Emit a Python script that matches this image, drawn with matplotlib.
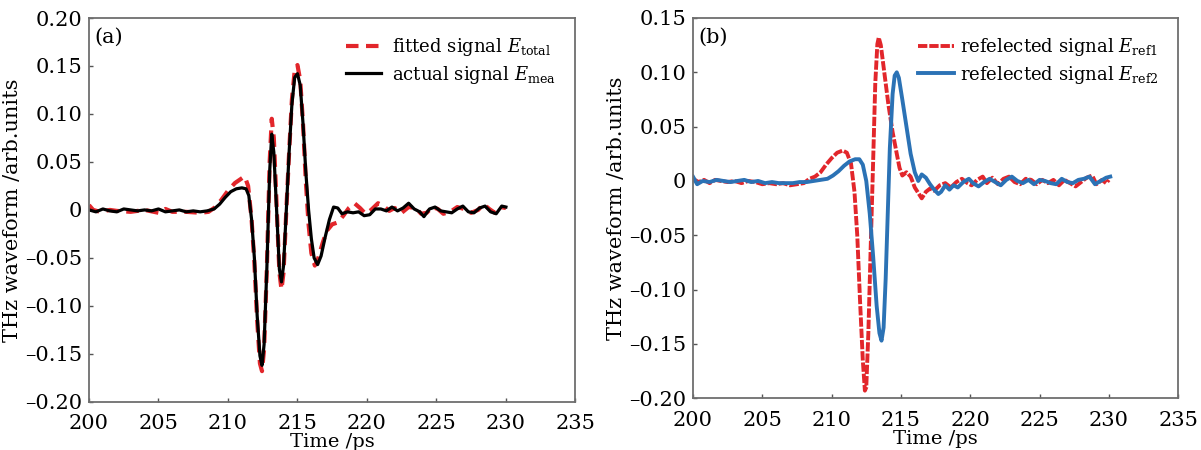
#
# THz waveforms: (a) fitted vs. actual signal, (b) the two reflected signals
#

import matplotlib
matplotlib.use("Agg")
import matplotlib.pyplot as plt
from matplotlib.ticker import FixedLocator, FuncFormatter

plt.rcParams['font.family'] = ['DejaVu Serif']
plt.rcParams['mathtext.fontset'] = 'dejavuserif'

# panel (a): actual signal E_mea
t_mea = [200.0, 200.5, 201.0, 201.5, 202.0, 202.5, 203.0, 203.5, 204.0, 204.5,
         205.0, 205.5, 206.0, 206.5, 207.0, 207.5, 208.0, 208.5, 209.0, 209.4,
         209.8, 210.2, 210.6, 211.0, 211.3, 211.5, 211.7, 211.9, 212.1, 212.3,
         212.45, 212.6, 212.8, 213.0, 213.15, 213.3, 213.5, 213.7, 213.85, 214.0,
         214.2, 214.4, 214.6, 214.8, 215.0, 215.2, 215.4, 215.6, 215.8, 216.0,
         216.2, 216.45, 216.7, 217.0, 217.3, 217.6, 217.9, 218.2, 218.6, 219.0,
         219.4, 219.8, 220.2, 220.6, 221.0, 221.4, 221.8, 222.2, 222.6, 223.0,
         223.4, 223.8, 224.1, 224.5, 224.9, 225.3, 225.7, 226.1, 226.5, 226.9,
         227.3, 227.7, 228.1, 228.5, 228.9, 229.3, 229.7, 230.0]
e_mea = [0.000, -0.002, 0.001, -0.001, -0.002, 0.001, 0.000, -0.001, 0.000, -0.001,
         0.001, -0.002, -0.001, 0.000, -0.002, -0.001, -0.002, -0.001, 0.001, 0.006,
         0.013, 0.019, 0.022, 0.023, 0.022, 0.015, -0.010, -0.050, -0.110, -0.152,
         -0.162, -0.140, -0.060, 0.040, 0.079, 0.060, 0.000, -0.062, -0.075, -0.058,
         0.000, 0.060, 0.110, 0.138, 0.142, 0.130, 0.090, 0.040, 0.000, -0.030,
         -0.050, -0.057, -0.048, -0.028, -0.010, 0.003, 0.002, -0.004, -0.002, -0.003,
         -0.002, -0.006, -0.005, 0.001, 0.001, -0.001, 0.003, -0.001, 0.002, 0.007,
         0.001, -0.002, -0.007, 0.001, 0.003, -0.001, -0.002, -0.003, 0.001, 0.004,
         -0.002, -0.003, 0.002, 0.004, -0.002, -0.004, 0.004, 0.003]

# panel (a): fitted signal E_total
t_fit = [200.0, 200.3, 200.8, 201.5, 202.0, 203.0, 204.0, 205.0, 205.5, 206.0,
         207.0, 208.0, 208.6, 209.0, 209.5, 210.0, 210.5, 211.0, 211.2, 211.45,
         211.7, 211.9, 212.1, 212.3, 212.45, 212.6, 212.8, 213.0, 213.15, 213.3,
         213.5, 213.7, 213.85, 214.0, 214.2, 214.4, 214.6, 214.8, 215.0, 215.2,
         215.4, 215.6, 215.8, 216.0, 216.25, 216.5, 216.8, 217.1, 217.5, 217.9,
         218.3, 218.7, 219.1, 219.5, 219.9, 220.3, 220.8, 221.2, 221.6, 222.0,
         222.5, 223.0, 223.5, 223.9, 224.3, 224.7, 225.1, 225.5, 226.0, 226.5,
         227.0, 227.5, 228.0, 228.4, 228.8, 229.2, 229.6, 230.0]
e_fit = [0.005, 0.000, -0.002, 0.000, -0.001, -0.002, 0.000, -0.003, 0.001, -0.002,
         -0.002, -0.003, -0.002, 0.002, 0.010, 0.020, 0.028, 0.033, 0.035, 0.025,
         -0.010, -0.055, -0.115, -0.160, -0.168, -0.145, -0.060, 0.050, 0.095, 0.075,
         0.005, -0.065, -0.083, -0.065, 0.000, 0.060, 0.115, 0.145, 0.151, 0.135,
         0.090, 0.030, -0.015, -0.045, -0.058, -0.050, -0.035, -0.022, -0.015, -0.013,
         -0.006, 0.002, 0.007, 0.002, -0.004, 0.000, 0.007, 0.004, -0.001, 0.002,
         -0.003, 0.003, 0.002, -0.004, -0.003, 0.003, 0.001, -0.004, -0.002, 0.003,
         0.001, -0.003, 0.000, 0.006, 0.001, -0.003, 0.003, 0.002]

# panel (b): reflected signal E_ref1
t_ref1 = [200.0, 200.4, 200.8, 201.2, 201.6, 202.0, 202.5, 203.0, 203.5, 204.0,
          204.5, 205.0, 205.5, 206.0, 206.5, 207.0, 207.5, 208.0, 208.4, 208.8,
          209.2, 209.6, 210.0, 210.4, 210.8, 211.1, 211.4, 211.65, 211.85, 212.05,
          212.25, 212.4, 212.5, 212.65, 212.8, 213.0, 213.15, 213.3, 213.4, 213.55,
          213.8, 214.1, 214.4, 214.7, 214.9, 215.1, 215.4, 215.7, 216.0, 216.3,
          216.5, 216.8, 217.1, 217.4, 217.8, 218.2, 218.6, 219.0, 219.4, 219.8,
          220.1, 220.5, 220.9, 221.2, 221.6, 222.0, 222.4, 222.8, 223.2, 223.6,
          224.0, 224.4, 224.8, 225.2, 225.6, 226.0, 226.4, 226.8, 227.2, 227.6,
          228.0, 228.4, 228.8, 229.1, 229.5, 229.8, 230.0]
e_ref1 = [0.002, -0.001, 0.001, -0.002, 0.001, 0.000, -0.001, 0.000, -0.002, 0.000,
          -0.001, -0.003, -0.002, -0.003, -0.002, -0.004, -0.003, -0.002, 0.002, 0.004,
          0.008, 0.015, 0.021, 0.026, 0.028, 0.026, 0.016, -0.010, -0.050, -0.110,
          -0.165, -0.193, -0.190, -0.140, -0.070, 0.020, 0.090, 0.126, 0.132, 0.125,
          0.100, 0.070, 0.045, 0.025, 0.012, 0.005, 0.008, 0.004, -0.006, -0.012,
          -0.016, -0.010, -0.007, -0.009, -0.004, -0.002, -0.006, -0.001, 0.002, -0.002,
          -0.004, 0.001, 0.004, -0.002, 0.003, -0.003, 0.002, 0.004, -0.001, -0.003,
          0.002, 0.001, -0.003, 0.001, -0.002, 0.001, -0.004, 0.001, -0.002, -0.005,
          -0.001, 0.003, 0.005, -0.003, 0.001, -0.002, 0.001]

# panel (b): reflected signal E_ref2
t_ref2 = [200.0, 200.3, 200.7, 201.2, 201.7, 202.2, 202.7, 203.2, 203.7, 204.2,
          204.7, 205.2, 205.7, 206.2, 206.7, 207.2, 207.7, 208.2, 208.7, 209.2,
          209.7, 210.1, 210.5, 210.9, 211.3, 211.7, 212.0, 212.25, 212.5, 212.75,
          213.0, 213.25, 213.45, 213.6, 213.75, 213.9, 214.05, 214.2, 214.4, 214.55,
          214.7, 214.85, 215.1, 215.4, 215.7, 216.0, 216.25, 216.5, 216.8, 217.1,
          217.4, 217.7, 217.9, 218.2, 218.5, 218.8, 219.1, 219.5, 219.9, 220.2,
          220.6, 221.0, 221.4, 221.8, 222.2, 222.6, 223.0, 223.4, 223.8, 224.2,
          224.6, 225.0, 225.4, 225.8, 226.2, 226.6, 227.0, 227.4, 227.8, 228.2,
          228.6, 229.0, 229.4, 229.8, 230.1]
e_ref2 = [0.004, -0.003, 0.000, -0.001, 0.001, 0.000, -0.001, 0.000, 0.001, -0.001,
          0.000, -0.002, -0.001, -0.002, -0.002, -0.002, -0.001, -0.001, 0.000, 0.001,
          0.002, 0.005, 0.009, 0.014, 0.018, 0.020, 0.020, 0.015, 0.000, -0.030,
          -0.070, -0.115, -0.140, -0.147, -0.135, -0.090, -0.030, 0.030, 0.080, 0.097,
          0.100, 0.095, 0.075, 0.050, 0.025, 0.008, 0.000, 0.006, 0.003, -0.003,
          -0.008, -0.012, -0.010, -0.004, -0.008, -0.004, -0.006, -0.001, 0.002, -0.002,
          -0.005, -0.001, 0.002, -0.001, -0.004, 0.001, 0.004, 0.000, -0.002, 0.001,
          -0.003, 0.001, 0.000, -0.002, -0.003, 0.002, -0.001, -0.002, 0.001, 0.002,
          0.004, -0.003, 0.000, 0.003, 0.004]

x_ticks = [200, 205, 210, 215, 220, 225, 230, 235]
y_ticks_a = [-0.20, -0.15, -0.10, -0.05, 0, 0.05, 0.10, 0.15, 0.20]
y_ticks_b = [-0.20, -0.15, -0.10, -0.05, 0, 0.05, 0.10, 0.15]

RED = '#e2262b'
BLUE = '#2b72b5'
FRAME = '#6e6e6e'


def y_fmt(v, pos):
    if abs(v) < 1e-9:
        return '0'
    return ('%.2f' % v).replace('-', '\u2013')


def style_axes(ax, yticks, ylim):
    ax.set_xlim(200, 235)
    ax.set_ylim(*ylim)
    ax.xaxis.set_major_locator(FixedLocator(x_ticks))
    ax.yaxis.set_major_locator(FixedLocator(yticks))
    ax.yaxis.set_major_formatter(FuncFormatter(y_fmt))
    ax.tick_params(direction='in', length=3, width=1, labelsize=15,
                   color='#555555')
    ax.tick_params(axis='x', pad=9)
    ax.tick_params(axis='y', pad=5)
    for s in ax.spines.values():
        s.set_color(FRAME)
        s.set_linewidth(1.3)
    ax.set_xlabel('Time /ps', fontsize=14, labelpad=0)
    ax.set_ylabel('THz waveform /arb.units', fontsize=15, labelpad=2)


fig = plt.figure(figsize=(12.01, 4.5), dpi=100)
ax1 = fig.add_axes([0.0741, 0.107, 0.405, 0.853])
ax2 = fig.add_axes([0.577, 0.115, 0.404, 0.845])

ax1.plot(t_fit, e_fit, color=RED, lw=3, dashes=(3, 1.8),
         label=r'fitted signal $E_{\rm total}$')
ax1.plot(t_mea, e_mea, color='black', lw=2.3,
         label=r'actual signal $E_{\rm mea}$')
style_axes(ax1, y_ticks_a, (-0.2, 0.2))
ax1.text(0.012, 0.975, '(a)', transform=ax1.transAxes, fontsize=15,
         va='top', ha='left')
ax1.legend(loc='upper right', frameon=False, fontsize=13, handlelength=1.9,
           handletextpad=0.6, labelspacing=0.3, borderaxespad=0.3,
           bbox_to_anchor=(0.985, 0.985))

ax2.plot(t_ref1, e_ref1, color=RED, lw=2.8, dashes=(2.4, 0.5),
         label=r'refelected signal $E_{\rm ref1}$')
ax2.plot(t_ref2, e_ref2, color=BLUE, lw=2.8,
         label=r'refelected signal $E_{\rm ref2}$')
style_axes(ax2, y_ticks_b, (-0.2, 0.15))
ax2.text(0.012, 0.975, '(b)', transform=ax2.transAxes, fontsize=15,
         va='top', ha='left')
ax2.legend(loc='upper right', frameon=False, fontsize=13, handlelength=2.0,
           handletextpad=0.3, labelspacing=0.3, borderaxespad=0.3,
           bbox_to_anchor=(0.985, 0.985))

fig.savefig('out.png', dpi=100)
